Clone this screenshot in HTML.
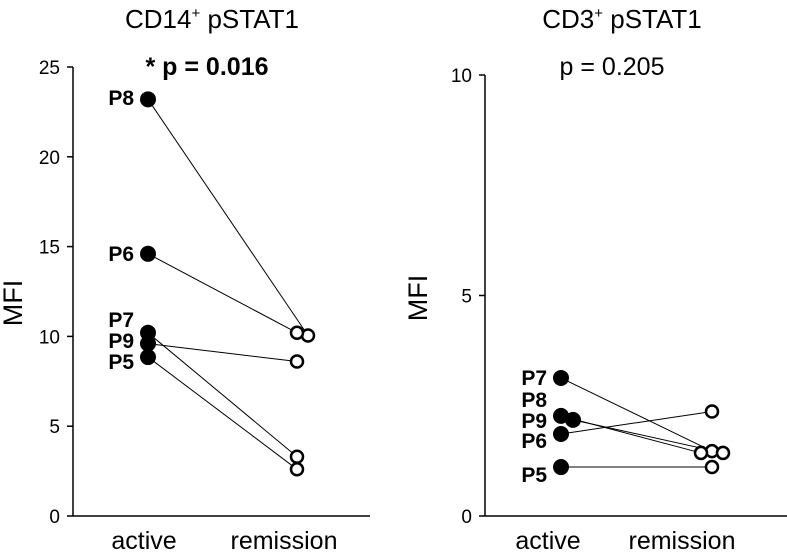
<!DOCTYPE html>
<html><head><meta charset="utf-8"><style>
html,body{margin:0;padding:0;background:#fff}
svg{display:block;font-family:"Liberation Sans",sans-serif}
</style></head><body>
<svg id="chart" width="787" height="553" viewBox="0 0 787 553" xmlns="http://www.w3.org/2000/svg"></svg>
<script>
const categories = ["active", "remission"];
const patientsL = ["P8", "P6", "P7", "P9", "P5"];
const activeL = [23.2, 14.6, 10.2, 9.6, 8.85];
const remissionL = [10.05, 10.2, 3.3, 8.6, 2.6];
const remOffsetL = [1, 0, 0, 0, 0];
const ticksL = [0, 5, 10, 15, 20, 25];
const patientsR = ["P7", "P8", "P9", "P6", "P5"];
const activeR = [3.13, 2.18, 2.27, 1.86, 1.11];
const remissionR = [1.47, 1.43, 1.43, 2.37, 1.11];
const actOffsetR = [0, 1, 0, 0, 0];
const remOffsetR = [0, 1, -1, 0, 0];
const ticksR = [0, 5, 10];

const NS = "http://www.w3.org/2000/svg";
const svg = document.getElementById("chart");
function mk(tag, attrs, parent) {
  const e = document.createElementNS(NS, tag);
  for (const k in attrs) e.setAttribute(k, attrs[k]);
  (parent || svg).appendChild(e);
  return e;
}
function txt(str, attrs, parent) { const t = mk("text", attrs, parent); t.textContent = str; return t; }

function panel(cfg) {
  const g = mk("g", {});
  
  
  const y = v => cfg.y0 - (v / cfg.max) * (cfg.y0 - cfg.yTop);
  const ya = mk("line", {x1: cfg.ax, y1: cfg.yTop, x2: cfg.ax, y2: cfg.y0, stroke: "#000", "stroke-width": 1.5}, g);
  
  
  const xa = mk("line", {x1: cfg.ax - 6, y1: cfg.y0, x2: cfg.xEnd, y2: cfg.y0, stroke: "#000", "stroke-width": 1.5}, g);
  
  
  cfg.ticks.forEach(t => {
    if (t > 0) mk("line", {x1: cfg.ax - 6, y1: y(t), x2: cfg.ax, y2: y(t), stroke: "#000", "stroke-width": 1.5}, g);
    const l = txt(String(t), {x: cfg.ax - 13, y: y(t) + 7, "text-anchor": "end", "font-size": 19}, g);
    
    
  });
  categories.forEach((c, i) => {
    const l = txt(c, {x: cfg.labX[i], y: 549, "text-anchor": "middle", "font-size": 25}, g);
    
    
  });
  const yt = txt("MFI", {x: 0, y: 0, "text-anchor": "middle", "font-size": 27, transform: `translate(${cfg.mfiX},${cfg.mfiY}) rotate(-90)`}, g);
  
  
  const tt = mk("text", {x: cfg.titleX, y: 28, "text-anchor": "middle", "font-size": 26}, g);
  tt.innerHTML = cfg.title + '<tspan dy="-10" font-size="15">+</tspan><tspan dy="10"> pSTAT1</tspan>';
  
  
  const pt = txt(cfg.pText, {x: cfg.pX, y: 75, "text-anchor": "middle", "font-size": 25, "font-weight": cfg.pBold ? "bold" : "normal"}, g);
  
  
  cfg.act.forEach((v, i) => {
    const xa1 = cfg.xAct + cfg.actOff[i] * 12, xr = cfg.xRem + cfg.remOff[i] * 11;
    const ln = mk("line", {x1: xa1, y1: y(v), x2: xr, y2: y(cfg.rem[i]), stroke: "#000", "stroke-width": 1}, g);
    
    
  });
  cfg.act.forEach((v, i) => {
    const xr = cfg.xRem + cfg.remOff[i] * 11;
    const c2 = mk("circle", {cx: xr, cy: y(cfg.rem[i]), r: 6, fill: "#fff", stroke: "#000", "stroke-width": 2.5}, g);
    
    
  });
  cfg.act.forEach((v, i) => {
    const xa1 = cfg.xAct + cfg.actOff[i] * 12;
    const c1 = mk("circle", {cx: xa1, cy: y(v), r: 8, fill: "#000"}, g);
    
    
  });
  cfg.pts.forEach((p, i) => {
    const l = txt(p, {x: cfg.xAct - 14, y: cfg.labY[i], "text-anchor": "end", "font-size": 21, "font-weight": "bold"}, g);
    
    
  });
}

panel({name: "cd14-pstat1-chart", ax: 73, y0: 516, yTop: 67, max: 25, xEnd: 370, xAct: 148, xRem: 297,
  act: activeL, rem: remissionL, pts: patientsL, actOff: [0,0,0,0,0], remOff: remOffsetL, ticks: ticksL,
  labX: [144, 284], mfiX: 22, mfiY: 303, titleX: 212, title: "CD14", pText: "* p = 0.016", pX: 207, pBold: true,
  labY: [105, 261, 327, 348, 369]});
panel({name: "cd3-pstat1-chart", ax: 485, y0: 516, yTop: 75, max: 10, xEnd: 787, xAct: 561, xRem: 712,
  act: activeR, rem: remissionR, pts: patientsR, actOff: actOffsetR, remOff: remOffsetR, ticks: ticksR,
  labX: [548, 682], mfiX: 427, mfiY: 298, titleX: 622, title: "CD3", pText: "p = 0.205", pX: 612, pBold: false,
  labY: [385, 407, 428, 448, 482]});
</script>
</body></html>
